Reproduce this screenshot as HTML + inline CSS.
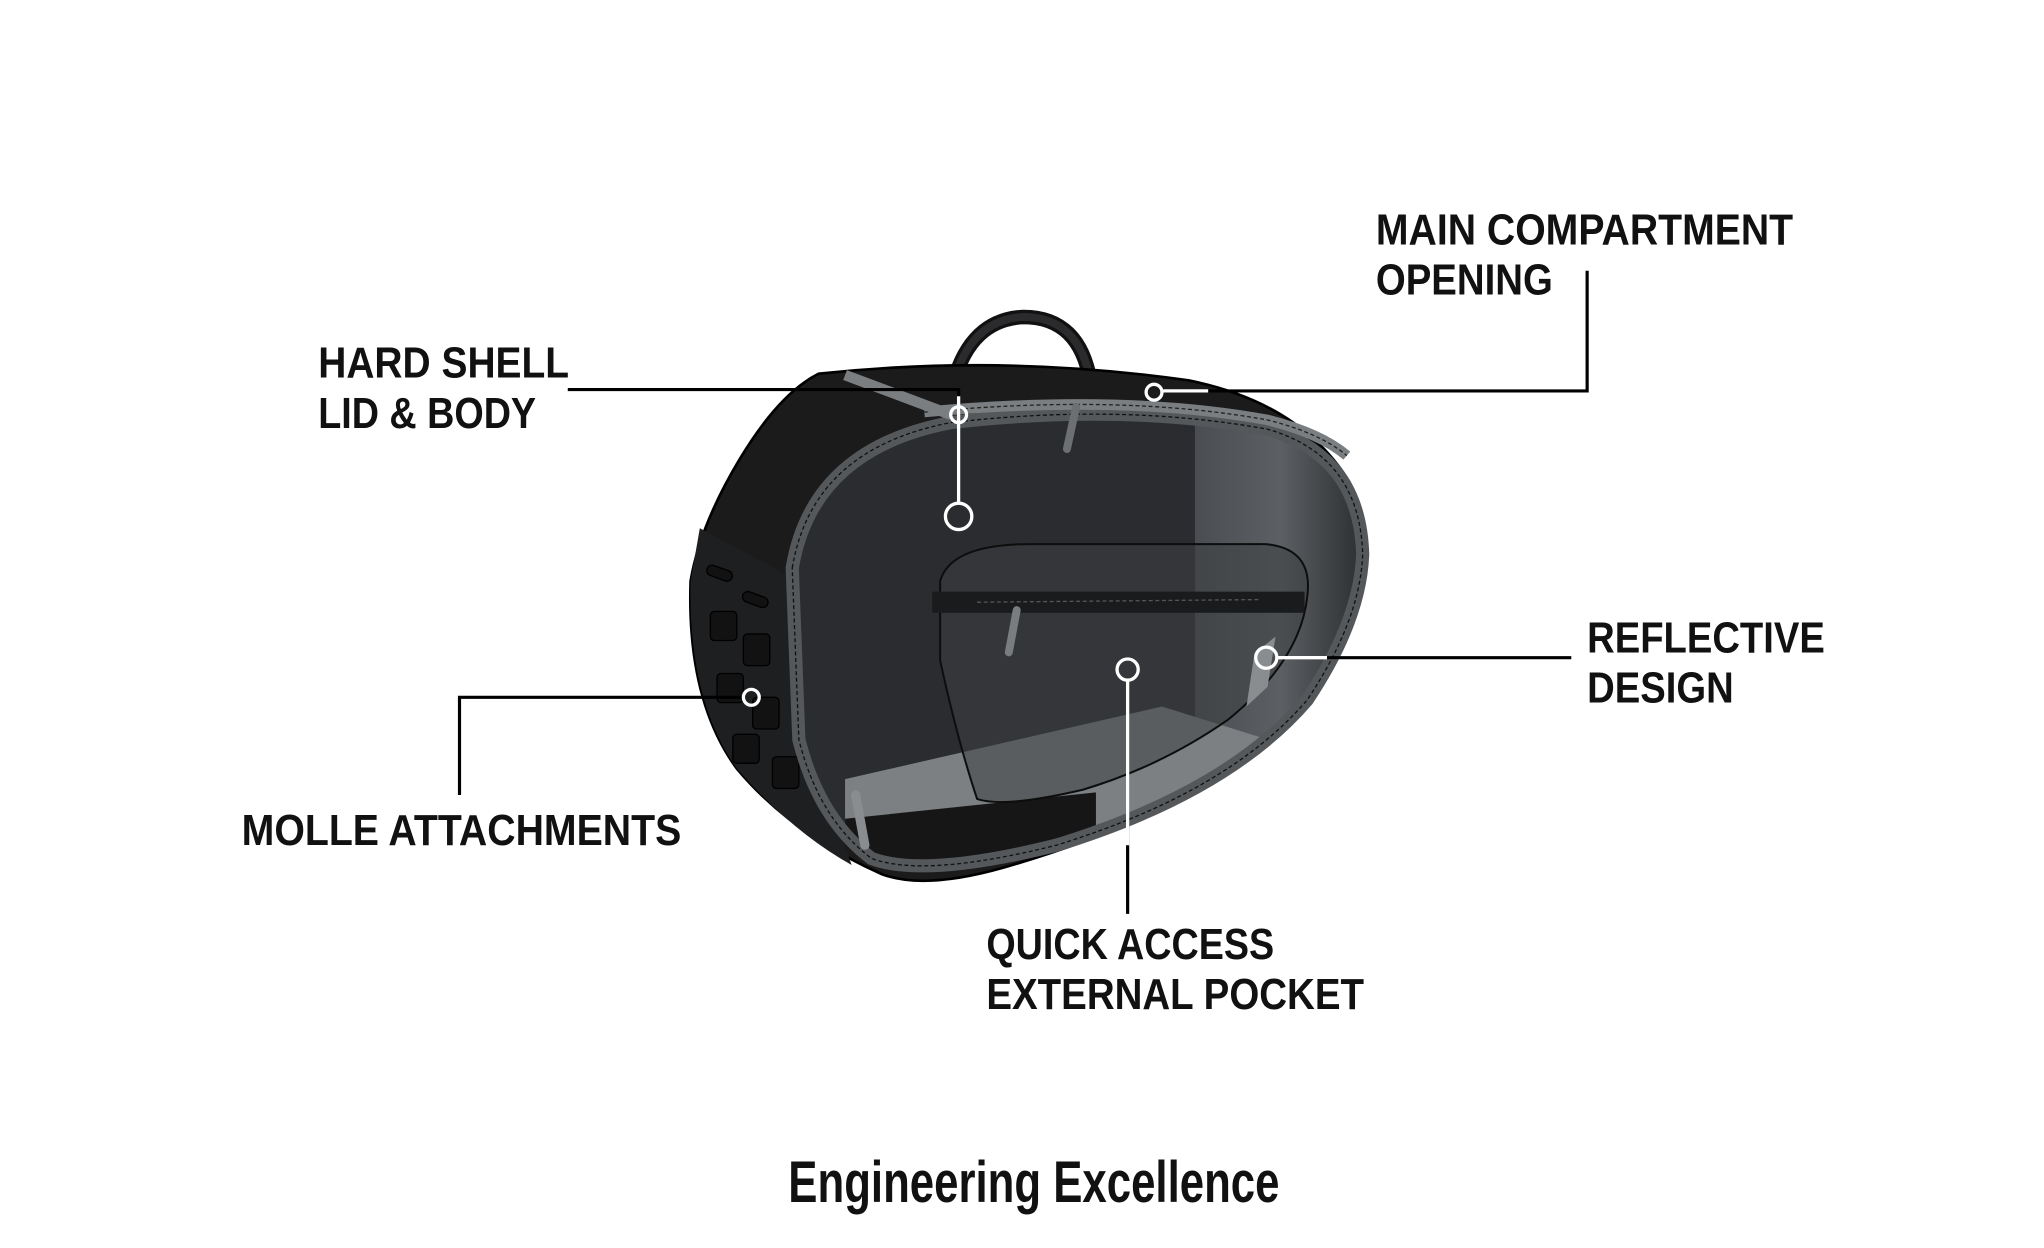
<!DOCTYPE html>
<html><head><meta charset="utf-8"><style>
html,body{margin:0;padding:0;background:#fff;}
svg{display:block;}
text{font-family:"Liberation Sans Narrow","Liberation Sans",sans-serif;font-weight:bold;fill:#111;}
</style></head><body>
<svg width="2044" height="1248" viewBox="0 0 1548 945" preserveAspectRatio="none" xmlns="http://www.w3.org/2000/svg">
<defs>
<linearGradient id="gl" x1="0" x2="1" y1="0" y2="0">
<stop offset="0" stop-color="#4a4d51"/><stop offset="0.5" stop-color="#5c5f63"/><stop offset="1" stop-color="#2a2c2f"/>
</linearGradient>
<clipPath id="face"><path d="M600,430 Q615,340 720,320 Q850,305 960,325 Q1030,345 1032,420 Q1030,470 990,530 Q930,600 800,640 Q700,665 660,650 Q620,620 605,560 Z"/></clipPath>
</defs>
<rect width="1548" height="945" fill="#fff"/>
<path d="M722,290 Q735,242 775,240 Q818,240 826,290" fill="none" stroke="#111" stroke-width="11"/>
<path d="M722,290 Q735,242 775,240 Q818,240 826,290" fill="none" stroke="#2b2b2d" stroke-width="6"/>
<path d="M620,283 Q760,268 900,288 Q985,305 1022,365 Q1042,420 1022,472 Q992,532 950,572 Q880,622 760,657 Q700,674 668,662 Q600,632 558,582 Q520,530 523,440 Q530,398 560,348 Q590,298 620,283 Z" fill="#1b1b1c" stroke="#000" stroke-width="2"/>
<path d="M530,400 L605,440 L610,560 L645,655 Q600,630 558,582 Q521,530 523,440 Z" fill="#1e1f21"/>
<g fill="#121212" stroke="#000" stroke-width="1">
<rect x="535" y="430" width="20" height="8" rx="4" transform="rotate(20 545 434)"/>
<rect x="562" y="450" width="20" height="8" rx="4" transform="rotate(20 572 454)"/>
<rect x="538" y="463" width="20" height="22" rx="3"/><rect x="563" y="480" width="20" height="24" rx="3"/>
<rect x="543" y="510" width="20" height="22" rx="3"/><rect x="570" y="528" width="20" height="24" rx="3"/>
<rect x="555" y="556" width="20" height="22" rx="3"/><rect x="585" y="573" width="20" height="24" rx="3"/>
</g>
<path d="M600,430 Q615,340 720,320 Q850,305 960,325 Q1030,345 1032,420 Q1030,470 990,530 Q930,600 800,640 Q700,665 660,650 Q620,620 605,560 Z" fill="#2a2c2f"/>
<g clip-path="url(#face)">
<rect x="905" y="320" width="130" height="330" fill="url(#gl)"/>
<path d="M640,590 L880,535 L960,560 L960,660 L640,660 Z" fill="#7c8083"/>
<path d="M640,620 L830,600 L830,660 L640,660 Z" fill="#161617"/>
</g>
<path d="M600,430 Q615,340 720,320 Q850,305 960,325 Q1030,345 1032,420 Q1030,470 990,530 Q930,600 800,640 Q700,665 660,650 Q620,620 605,560 Z" fill="none" stroke="#55585b" stroke-width="10"/>
<path d="M600,430 Q615,340 720,320 Q850,305 960,325 Q1030,345 1032,420 Q1030,470 990,530 Q930,600 800,640 Q700,665 660,650 Q620,620 605,560 Z" fill="none" stroke="#111" stroke-width="1" stroke-dasharray="3 2"/>
<path d="M700,312 Q850,298 960,318 Q1000,328 1020,345" fill="none" stroke="#7b7e81" stroke-width="8"/>
<path d="M700,312 Q850,298 960,318 Q1000,328 1020,345" fill="none" stroke="#222" stroke-width="1" stroke-dasharray="3 2"/>
<path d="M640,284 L720,314" stroke="#7b7e81" stroke-width="8"/>
<path d="M815,308 L808,340" stroke="#6d7073" stroke-width="6" stroke-linecap="round"/>
<path d="M648,602 L655,640" stroke="#8a8d90" stroke-width="7" stroke-linecap="round"/>
<path d="M712,440 Q720,412 780,412 L958,412 Q995,415 990,452 Q985,500 930,545 Q880,580 820,598 Q760,612 740,605 Q725,560 712,500 Z" fill="#3c3f42" fill-opacity="0.55" stroke="#0d0d0d" stroke-width="1.5"/>
<rect x="706" y="448" width="282" height="16" fill="#1a1b1c"/>
<line x1="740" y1="456" x2="955" y2="454" stroke="#555" stroke-dasharray="3 2"/>
<path d="M770,462 L764,494" stroke="#7a7d80" stroke-width="6" stroke-linecap="round"/>
<path d="M950,495 L966,482 L960,520 L944,535 Z" fill="#8a8d90"/>
<g fill="none" stroke="#000" stroke-width="2.4">
<polyline points="1202,205 1202,296 880,296"/>
<polyline points="430,295 726,295 726,380"/>
<polyline points="562,528 348,528 348,602"/>
<line x1="968" y1="498" x2="1190" y2="498"/>
<line x1="854" y1="516" x2="854" y2="692"/>
</g>
<g fill="none" stroke="#fff" stroke-width="2.5">
<line x1="726" y1="300" x2="726" y2="380"/>
<line x1="854" y1="516" x2="854" y2="640"/>
<line x1="968" y1="498" x2="1005" y2="498"/>
<line x1="881" y1="296" x2="915" y2="296"/>
</g>
<g fill="none" stroke="#fff" stroke-width="2.5">
<circle cx="874" cy="297" r="6"/>
<circle cx="726" cy="314" r="6"/>
<circle cx="726" cy="391" r="10"/>
<circle cx="569" cy="528" r="6"/>
<circle cx="959" cy="498" r="8"/>
<circle cx="854" cy="507" r="8"/>
</g>
<g font-size="33">
<text x="1042" y="185" textLength="316" lengthAdjust="spacingAndGlyphs">MAIN COMPARTMENT</text>
<text x="1042" y="223" textLength="134" lengthAdjust="spacingAndGlyphs">OPENING</text>
<text x="241" y="286" textLength="190" lengthAdjust="spacingAndGlyphs">HARD SHELL</text>
<text x="241" y="324" textLength="165" lengthAdjust="spacingAndGlyphs">LID &amp; BODY</text>
<text x="183" y="640" textLength="333" lengthAdjust="spacingAndGlyphs">MOLLE ATTACHMENTS</text>
<text x="1202" y="494" textLength="180" lengthAdjust="spacingAndGlyphs">REFLECTIVE</text>
<text x="1202" y="532" textLength="111" lengthAdjust="spacingAndGlyphs">DESIGN</text>
<text x="747" y="726" textLength="218" lengthAdjust="spacingAndGlyphs">QUICK ACCESS</text>
<text x="747" y="764" textLength="286" lengthAdjust="spacingAndGlyphs">EXTERNAL POCKET</text>
</g>
<text x="597" y="910" font-size="44" textLength="372" lengthAdjust="spacingAndGlyphs">Engineering Excellence</text>
</svg>
</body></html>
